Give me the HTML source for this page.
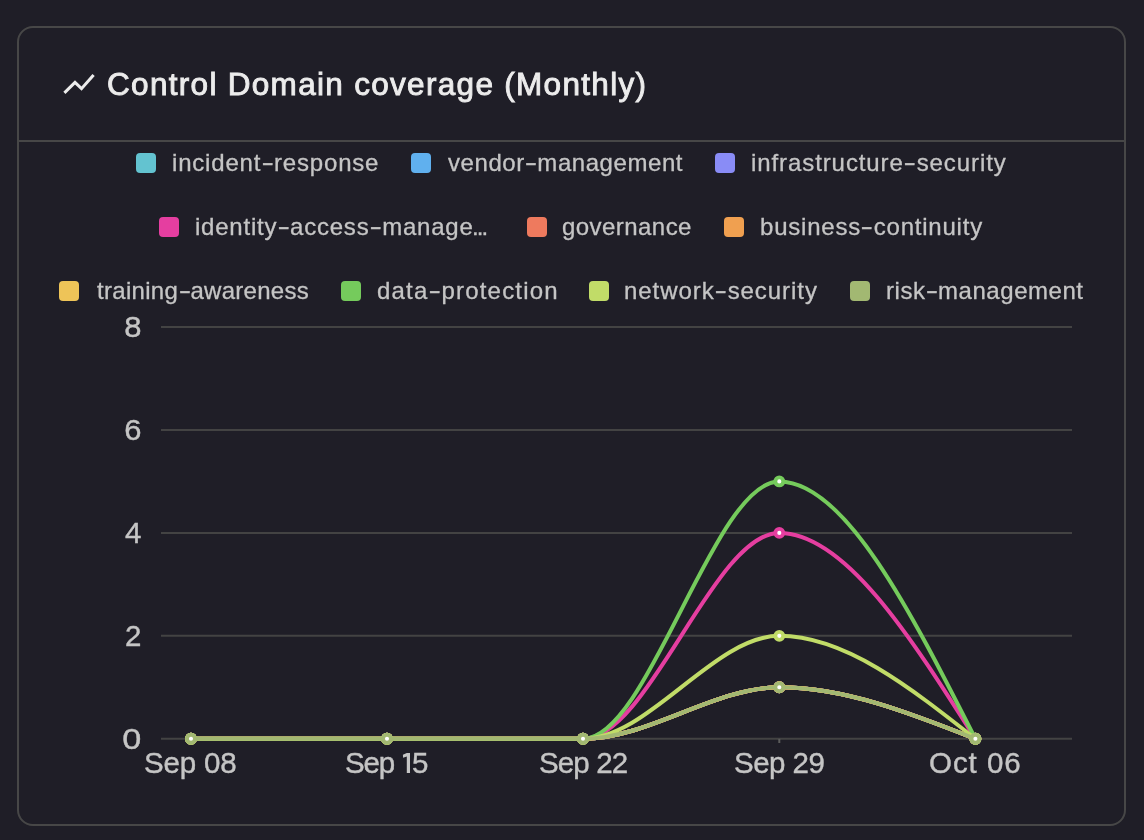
<!DOCTYPE html>
<html><head><meta charset="utf-8"><style>
html,body{margin:0;padding:0;background:#1f1e27;width:1144px;height:840px;overflow:hidden;}
body{position:relative;font-family:"Liberation Sans",sans-serif;}
.card{position:absolute;left:17px;top:26px;width:1109px;height:800px;box-sizing:border-box;border:2px solid #474747;border-radius:16px;}
.sep{position:absolute;left:17px;top:140px;width:1109px;height:2px;background:#474747;}
.t{position:absolute;white-space:nowrap;line-height:1;will-change:transform;-webkit-font-smoothing:antialiased;}
.hy{display:inline-block;margin:0 1.5px 0 2.5px;transform:translateY(-1.1px) scaleX(1.55);}
.sq{position:absolute;width:20px;height:20px;border-radius:4px;}
svg{position:absolute;left:0;top:0;}
</style></head><body>
<div class="card"></div>
<div class="sep"></div>
<svg width="1144" height="840" viewBox="0 0 1144 840">
<polyline points="64.4,92.9 75,82.4 81.5,88.7 93.6,75" fill="none" stroke="#ececec" stroke-width="3" stroke-linejoin="miter" stroke-linecap="butt"/>
</svg>
<div class="sq" style="left:136px;top:153px;background:#63c3d0"></div>
<div class="sq" style="left:411px;top:153px;background:#60b0ee"></div>
<div class="sq" style="left:715px;top:153px;background:#898cf6"></div>
<div class="sq" style="left:159px;top:217px;background:#e53ea0"></div>
<div class="sq" style="left:527px;top:217px;background:#ee7a5e"></div>
<div class="sq" style="left:724px;top:217px;background:#f0a050"></div>
<div class="sq" style="left:59px;top:281px;background:#eec458"></div>
<div class="sq" style="left:341px;top:281px;background:#75cb5c"></div>
<div class="sq" style="left:589px;top:281px;background:#c1dc68"></div>
<div class="sq" style="left:850px;top:281px;background:#a2b872"></div>
<div class="t" style="left:107.00px;top:68.54px;font-size:31.5px;color:#ececec;letter-spacing:1.306px;-webkit-text-stroke:0.9px #ececec;">Control Domain coverage (Monthly)</div>
<div class="t" style="left:172.00px;top:150.88px;font-size:24.0px;color:#c5c5c5;letter-spacing:0.812px;-webkit-text-stroke:0.3px #c5c5c5;">incident<span class="hy">-</span>response</div>
<div class="t" style="left:448.00px;top:150.88px;font-size:24.0px;color:#c5c5c5;letter-spacing:0.562px;-webkit-text-stroke:0.3px #c5c5c5;">vendor<span class="hy">-</span>management</div>
<div class="t" style="left:751.00px;top:150.88px;font-size:24.0px;color:#c5c5c5;letter-spacing:0.909px;-webkit-text-stroke:0.3px #c5c5c5;">infrastructure<span class="hy">-</span>security</div>
<div class="t" style="left:195.00px;top:214.88px;font-size:24.0px;color:#c5c5c5;letter-spacing:0.778px;-webkit-text-stroke:0.3px #c5c5c5;">identity<span class="hy">-</span>access<span class="hy">-</span>manage</div>
<div class="t" style="left:562.20px;top:214.88px;font-size:24.0px;color:#c5c5c5;letter-spacing:0.444px;-webkit-text-stroke:0.3px #c5c5c5;">governance</div>
<div class="t" style="left:760.00px;top:214.88px;font-size:24.0px;color:#c5c5c5;letter-spacing:0.778px;-webkit-text-stroke:0.3px #c5c5c5;">business<span class="hy">-</span>continuity</div>
<div class="t" style="left:96.50px;top:278.88px;font-size:24.0px;color:#c5c5c5;letter-spacing:0.294px;-webkit-text-stroke:0.3px #c5c5c5;">training<span class="hy">-</span>awareness</div>
<div class="t" style="left:377.00px;top:278.88px;font-size:24.0px;color:#c5c5c5;letter-spacing:1.171px;-webkit-text-stroke:0.3px #c5c5c5;">data<span class="hy">-</span>protection</div>
<div class="t" style="left:623.90px;top:278.88px;font-size:24.0px;color:#c5c5c5;letter-spacing:0.947px;-webkit-text-stroke:0.3px #c5c5c5;">network<span class="hy">-</span>security</div>
<div class="t" style="left:885.50px;top:278.88px;font-size:24.0px;color:#c5c5c5;letter-spacing:0.543px;-webkit-text-stroke:0.3px #c5c5c5;">risk<span class="hy">-</span>management</div>
<div class="t" style="left:471.80px;top:214.88px;font-size:24.0px;color:#c5c5c5;letter-spacing:-1.900px;-webkit-text-stroke:0.3px #c5c5c5;">...</div>
<div class="t" style="left:143.70px;top:748.23px;font-size:29.5px;color:#c5c5c5;letter-spacing:-0.160px;-webkit-text-stroke:0.4px #c5c5c5;">Sep 08</div>
<div class="t" style="left:344.80px;top:748.23px;font-size:29.5px;color:#c5c5c5;letter-spacing:-1.200px;-webkit-text-stroke:0.4px #c5c5c5;">Sep</div>
<div class="t" style="left:411.70px;top:748.23px;font-size:29.5px;color:#c5c5c5;letter-spacing:0.000px;-webkit-text-stroke:0.4px #c5c5c5;">5</div>
<div class="t" style="left:538.60px;top:748.23px;font-size:29.5px;color:#c5c5c5;letter-spacing:-0.880px;-webkit-text-stroke:0.4px #c5c5c5;">Sep 22</div>
<div class="t" style="left:734.10px;top:748.23px;font-size:29.5px;color:#c5c5c5;letter-spacing:-0.520px;-webkit-text-stroke:0.4px #c5c5c5;">Sep 29</div>
<div class="t" style="left:929.20px;top:748.23px;font-size:29.5px;color:#c5c5c5;letter-spacing:0.960px;-webkit-text-stroke:0.4px #c5c5c5;">Oct 06</div>
<svg width="1144" height="840" viewBox="0 0 1144 840">
<line x1="161" x2="1072" y1="738.80" y2="738.80" stroke="#434343" stroke-width="2"/>
<line x1="161" x2="1072" y1="635.85" y2="635.85" stroke="#434343" stroke-width="2"/>
<line x1="161" x2="1072" y1="532.90" y2="532.90" stroke="#434343" stroke-width="2"/>
<line x1="161" x2="1072" y1="429.95" y2="429.95" stroke="#434343" stroke-width="2"/>
<line x1="161" x2="1072" y1="327.00" y2="327.00" stroke="#434343" stroke-width="2"/>
<line x1="191.00" x2="191.00" y1="738.80" y2="743.00" stroke="#5c5c5c" stroke-width="2"/>
<line x1="387.00" x2="387.00" y1="738.80" y2="743.00" stroke="#5c5c5c" stroke-width="2"/>
<line x1="583.00" x2="583.00" y1="738.80" y2="743.00" stroke="#5c5c5c" stroke-width="2"/>
<line x1="779.30" x2="779.30" y1="738.80" y2="743.00" stroke="#5c5c5c" stroke-width="2"/>
<line x1="975.40" x2="975.40" y1="738.80" y2="743.00" stroke="#5c5c5c" stroke-width="2"/>
<path d="M191.00,738.80L387.00,738.80L583.00,738.80C648.43,738.80 713.87,687.32 779.30,687.32C844.67,687.32 910.03,713.06 975.40,738.80" fill="none" stroke="#63c3d0" stroke-width="4.0"/>
<circle cx="191.00" cy="738.80" r="4" fill="#fff" stroke="#63c3d0" stroke-width="3.9"/>
<circle cx="387.00" cy="738.80" r="4" fill="#fff" stroke="#63c3d0" stroke-width="3.9"/>
<circle cx="583.00" cy="738.80" r="4" fill="#fff" stroke="#63c3d0" stroke-width="3.9"/>
<circle cx="779.30" cy="687.32" r="4" fill="#fff" stroke="#63c3d0" stroke-width="3.9"/>
<circle cx="975.40" cy="738.80" r="4" fill="#fff" stroke="#63c3d0" stroke-width="3.9"/>
<path d="M191.00,738.80L387.00,738.80L583.00,738.80C648.43,738.80 713.87,687.32 779.30,687.32C844.67,687.32 910.03,713.06 975.40,738.80" fill="none" stroke="#60b0ee" stroke-width="4.0"/>
<circle cx="191.00" cy="738.80" r="4" fill="#fff" stroke="#60b0ee" stroke-width="3.9"/>
<circle cx="387.00" cy="738.80" r="4" fill="#fff" stroke="#60b0ee" stroke-width="3.9"/>
<circle cx="583.00" cy="738.80" r="4" fill="#fff" stroke="#60b0ee" stroke-width="3.9"/>
<circle cx="779.30" cy="687.32" r="4" fill="#fff" stroke="#60b0ee" stroke-width="3.9"/>
<circle cx="975.40" cy="738.80" r="4" fill="#fff" stroke="#60b0ee" stroke-width="3.9"/>
<path d="M191.00,738.80L387.00,738.80L583.00,738.80C648.43,738.80 713.87,687.32 779.30,687.32C844.67,687.32 910.03,713.06 975.40,738.80" fill="none" stroke="#898cf6" stroke-width="4.0"/>
<circle cx="191.00" cy="738.80" r="4" fill="#fff" stroke="#898cf6" stroke-width="3.9"/>
<circle cx="387.00" cy="738.80" r="4" fill="#fff" stroke="#898cf6" stroke-width="3.9"/>
<circle cx="583.00" cy="738.80" r="4" fill="#fff" stroke="#898cf6" stroke-width="3.9"/>
<circle cx="779.30" cy="687.32" r="4" fill="#fff" stroke="#898cf6" stroke-width="3.9"/>
<circle cx="975.40" cy="738.80" r="4" fill="#fff" stroke="#898cf6" stroke-width="3.9"/>
<path d="M191.00,738.80L387.00,738.80L583.00,738.80C648.43,738.80 713.87,532.90 779.30,532.90C844.67,532.90 910.03,635.85 975.40,738.80" fill="none" stroke="#e53ea0" stroke-width="4.0"/>
<circle cx="191.00" cy="738.80" r="4" fill="#fff" stroke="#e53ea0" stroke-width="3.9"/>
<circle cx="387.00" cy="738.80" r="4" fill="#fff" stroke="#e53ea0" stroke-width="3.9"/>
<circle cx="583.00" cy="738.80" r="4" fill="#fff" stroke="#e53ea0" stroke-width="3.9"/>
<circle cx="779.30" cy="532.90" r="4" fill="#fff" stroke="#e53ea0" stroke-width="3.9"/>
<circle cx="975.40" cy="738.80" r="4" fill="#fff" stroke="#e53ea0" stroke-width="3.9"/>
<path d="M191.00,738.80L387.00,738.80L583.00,738.80C648.43,738.80 713.87,687.32 779.30,687.32C844.67,687.32 910.03,713.06 975.40,738.80" fill="none" stroke="#ee7a5e" stroke-width="4.0"/>
<circle cx="191.00" cy="738.80" r="4" fill="#fff" stroke="#ee7a5e" stroke-width="3.9"/>
<circle cx="387.00" cy="738.80" r="4" fill="#fff" stroke="#ee7a5e" stroke-width="3.9"/>
<circle cx="583.00" cy="738.80" r="4" fill="#fff" stroke="#ee7a5e" stroke-width="3.9"/>
<circle cx="779.30" cy="687.32" r="4" fill="#fff" stroke="#ee7a5e" stroke-width="3.9"/>
<circle cx="975.40" cy="738.80" r="4" fill="#fff" stroke="#ee7a5e" stroke-width="3.9"/>
<path d="M191.00,738.80L387.00,738.80L583.00,738.80C648.43,738.80 713.87,687.32 779.30,687.32C844.67,687.32 910.03,713.06 975.40,738.80" fill="none" stroke="#f0a050" stroke-width="4.0"/>
<circle cx="191.00" cy="738.80" r="4" fill="#fff" stroke="#f0a050" stroke-width="3.9"/>
<circle cx="387.00" cy="738.80" r="4" fill="#fff" stroke="#f0a050" stroke-width="3.9"/>
<circle cx="583.00" cy="738.80" r="4" fill="#fff" stroke="#f0a050" stroke-width="3.9"/>
<circle cx="779.30" cy="687.32" r="4" fill="#fff" stroke="#f0a050" stroke-width="3.9"/>
<circle cx="975.40" cy="738.80" r="4" fill="#fff" stroke="#f0a050" stroke-width="3.9"/>
<path d="M191.00,738.80L387.00,738.80L583.00,738.80C648.43,738.80 713.87,687.32 779.30,687.32C844.67,687.32 910.03,713.06 975.40,738.80" fill="none" stroke="#eec458" stroke-width="4.0"/>
<circle cx="191.00" cy="738.80" r="4" fill="#fff" stroke="#eec458" stroke-width="3.9"/>
<circle cx="387.00" cy="738.80" r="4" fill="#fff" stroke="#eec458" stroke-width="3.9"/>
<circle cx="583.00" cy="738.80" r="4" fill="#fff" stroke="#eec458" stroke-width="3.9"/>
<circle cx="779.30" cy="687.32" r="4" fill="#fff" stroke="#eec458" stroke-width="3.9"/>
<circle cx="975.40" cy="738.80" r="4" fill="#fff" stroke="#eec458" stroke-width="3.9"/>
<path d="M191.00,738.80L387.00,738.80L583.00,738.80C648.43,738.80 713.87,481.42 779.30,481.42C844.67,481.42 910.03,610.11 975.40,738.80" fill="none" stroke="#75cb5c" stroke-width="4.0"/>
<circle cx="191.00" cy="738.80" r="4" fill="#fff" stroke="#75cb5c" stroke-width="3.9"/>
<circle cx="387.00" cy="738.80" r="4" fill="#fff" stroke="#75cb5c" stroke-width="3.9"/>
<circle cx="583.00" cy="738.80" r="4" fill="#fff" stroke="#75cb5c" stroke-width="3.9"/>
<circle cx="779.30" cy="481.42" r="4" fill="#fff" stroke="#75cb5c" stroke-width="3.9"/>
<circle cx="975.40" cy="738.80" r="4" fill="#fff" stroke="#75cb5c" stroke-width="3.9"/>
<path d="M191.00,738.80L387.00,738.80L583.00,738.80C648.43,738.80 713.87,635.85 779.30,635.85C844.67,635.85 910.03,687.32 975.40,738.80" fill="none" stroke="#c1dc68" stroke-width="4.0"/>
<circle cx="191.00" cy="738.80" r="4" fill="#fff" stroke="#c1dc68" stroke-width="3.9"/>
<circle cx="387.00" cy="738.80" r="4" fill="#fff" stroke="#c1dc68" stroke-width="3.9"/>
<circle cx="583.00" cy="738.80" r="4" fill="#fff" stroke="#c1dc68" stroke-width="3.9"/>
<circle cx="779.30" cy="635.85" r="4" fill="#fff" stroke="#c1dc68" stroke-width="3.9"/>
<circle cx="975.40" cy="738.80" r="4" fill="#fff" stroke="#c1dc68" stroke-width="3.9"/>
<path d="M191.00,738.80L387.00,738.80L583.00,738.80C648.43,738.80 713.87,687.32 779.30,687.32C844.67,687.32 910.03,713.06 975.40,738.80" fill="none" stroke="#a2b872" stroke-width="4.0"/>
<circle cx="191.00" cy="738.80" r="4" fill="#fff" stroke="#a2b872" stroke-width="3.9"/>
<circle cx="387.00" cy="738.80" r="4" fill="#fff" stroke="#a2b872" stroke-width="3.9"/>
<circle cx="583.00" cy="738.80" r="4" fill="#fff" stroke="#a2b872" stroke-width="3.9"/>
<circle cx="779.30" cy="687.32" r="4" fill="#fff" stroke="#a2b872" stroke-width="3.9"/>
<circle cx="975.40" cy="738.80" r="4" fill="#fff" stroke="#a2b872" stroke-width="3.9"/>
<path d="M406.8,753 L410,753 L410,773 L406.8,773 L406.8,756.6 L403.1,757.7 L402.9,754.7 Z" fill="#c5c5c5"/>
</svg>
<div class="t" style="right:1002.80px;top:724.13px;font-size:29.5px;color:#c5c5c5;transform:scaleX(1.16);transform-origin:100% 50%;-webkit-text-stroke:0.4px #c5c5c5;">0</div>
<div class="t" style="right:1002.80px;top:621.18px;font-size:29.5px;color:#c5c5c5;transform:scaleX(1.0);transform-origin:100% 50%;-webkit-text-stroke:0.4px #c5c5c5;">2</div>
<div class="t" style="right:1002.80px;top:518.23px;font-size:29.5px;color:#c5c5c5;transform:scaleX(1.0);transform-origin:100% 50%;-webkit-text-stroke:0.4px #c5c5c5;">4</div>
<div class="t" style="right:1002.80px;top:415.28px;font-size:29.5px;color:#c5c5c5;transform:scaleX(1.05);transform-origin:100% 50%;-webkit-text-stroke:0.4px #c5c5c5;">6</div>
<div class="t" style="right:1002.80px;top:312.33px;font-size:29.5px;color:#c5c5c5;transform:scaleX(1.05);transform-origin:100% 50%;-webkit-text-stroke:0.4px #c5c5c5;">8</div>
</body></html>
